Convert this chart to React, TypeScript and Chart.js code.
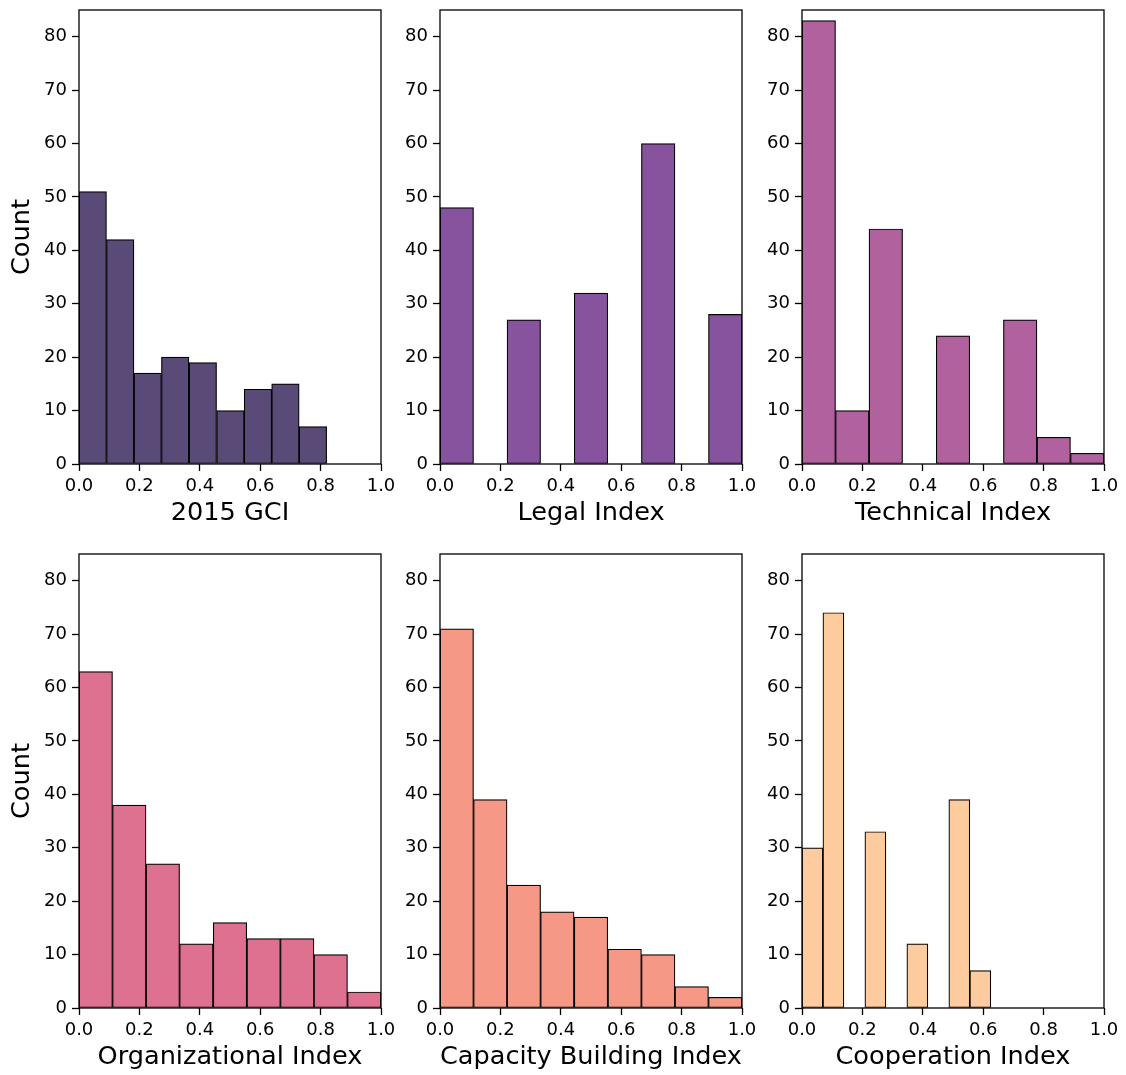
import React, { useEffect, useRef } from 'react';
import { Chart, registerables } from 'chart.js';

Chart.register(...registerables);

// Histogram bin edges
const gciEdges = [0, 0.091, 0.182, 0.273, 0.364, 0.456, 0.547, 0.638, 0.729, 0.82];
const ninthEdges = [0, 0.111, 0.222, 0.333, 0.444, 0.556, 0.667, 0.778, 0.889, 1.0];
const coopEdges = [0, 0.069, 0.139, 0.208, 0.278, 0.347, 0.417, 0.486, 0.556, 0.625];

// Counts per bin
const gciCounts = [51, 42, 17, 20, 19, 10, 14, 15, 7];
const legalCounts = [48, 0, 27, 0, 32, 0, 60, 0, 28];
const technicalCounts = [83, 10, 44, 0, 24, 0, 27, 5, 2];
const organizationalCounts = [63, 38, 27, 12, 16, 13, 13, 10, 3];
const capacityCounts = [71, 39, 23, 18, 17, 11, 10, 4, 2];
const cooperationCounts = [30, 74, 0, 33, 0, 12, 0, 39, 7];

// Axis labels and ticks
const panelTitles = [
  '2015 GCI',
  'Legal Index',
  'Technical Index',
  'Organizational Index',
  'Capacity Building Index',
  'Cooperation Index',
];
const panelColors = ['#5a4a77', '#87529e', '#b0619e', '#de7190', '#f69886', '#fecb9f'];
const xTickValues = [0, 0.2, 0.4, 0.6, 0.8, 1.0];
const yTickValues = [0, 10, 20, 30, 40, 50, 60, 70, 80];
const yLabel = 'Count';

const FONT = "'DejaVu Sans', sans-serif";
const AXIS_W = 75;
const AXIS_H = 64;
const PLOT_W = 302;
const PLOT_H = 454;
const PAD_TOP = 20;
const PAD_RIGHT = 20;
const CANVAS_W = AXIS_W + PLOT_W + PAD_RIGHT;
const CANVAS_H = PAD_TOP + PLOT_H + AXIS_H;

const colLefts = [79, 440, 802];
const rowTops = [10, 554];

const boxPlugin = {
  id: 'boxFrame',
  afterDatasetsDraw(chart: any) {
    const { ctx, chartArea } = chart;
    const { left, top, right, bottom } = chartArea;
    ctx.save();
    ctx.strokeStyle = '#000';
    ctx.lineWidth = 1.3;
    ctx.strokeRect(left, top, right - left, bottom - top);
    ctx.restore();
  },
};

type PanelProps = {
  edges: number[];
  counts: number[];
  color: string;
  title: string;
  showY: boolean;
  left: number;
  top: number;
};

function Panel({ edges, counts, color, title, showY, left, top }: PanelProps) {
  const ref = useRef<HTMLCanvasElement | null>(null);
  useEffect(() => {
    if (!ref.current) return;
    const data = counts.map((c, i) => ({ x: (edges[i] + edges[i + 1]) / 2, y: c }));
    const chart = new Chart(ref.current, {
      type: 'bar',
      data: {
        datasets: [
          {
            data,
            backgroundColor: color,
            borderColor: '#000',
            borderWidth: 1.2,
            borderSkipped: false,
            barPercentage: 1,
            categoryPercentage: 1,
          } as any,
        ],
      },
      options: {
        responsive: false,
        animation: false,
        devicePixelRatio: 1,
        layout: { padding: { top: PAD_TOP, right: PAD_RIGHT, left: 0, bottom: 0 } },
        plugins: { legend: { display: false }, tooltip: { enabled: false } },
        scales: {
          x: {
            type: 'linear',
            min: 0,
            max: 1,
            offset: false,
            afterFit: (s: any) => {
              s.height = AXIS_H;
            },
            afterBuildTicks: (s: any) => {
              s.ticks = xTickValues.map((v) => ({ value: v }));
            },
            grid: {
              display: true,
              offset: false,
              drawOnChartArea: false,
              drawTicks: true,
              tickLength: 7,
              tickColor: '#000',
              tickWidth: 1.3,
            },
            border: { display: false },
            ticks: {
              color: '#000',
              padding: 5,
              maxRotation: 0,
              font: { family: FONT, size: 18 },
              callback: (v: any) => Number(v).toFixed(1),
            },
            title: {
              display: true,
              text: title,
              color: '#000',
              font: { family: FONT, size: 25.6 },
              padding: { top: 0, bottom: -1 },
            },
          },
          y: {
            type: 'linear',
            min: 0,
            max: 85,
            afterFit: (s: any) => {
              s.width = AXIS_W;
            },
            afterBuildTicks: (s: any) => {
              s.ticks = yTickValues.map((v) => ({ value: v }));
            },
            grid: {
              display: true,
              drawOnChartArea: false,
              drawTicks: true,
              tickLength: 7,
              tickColor: '#000',
              tickWidth: 1.3,
            },
            border: { display: false },
            ticks: {
              color: '#000',
              padding: 5,
              font: { family: FONT, size: 18 },
              callback: (v: any) => String(v),
            },
            title: {
              display: showY,
              text: yLabel,
              color: '#000',
              font: { family: FONT, size: 25.6 },
              padding: { top: 3, bottom: 0 },
            },
          },
        },
      },
      plugins: [boxPlugin],
    } as any);
    return () => chart.destroy();
  }, [edges, counts, color, title, showY]);

  return (
    <div
      style={{
        position: 'absolute',
        left: left - AXIS_W,
        top: top - PAD_TOP,
        width: CANVAS_W,
        height: CANVAS_H,
      }}
    >
      <canvas ref={ref} width={CANVAS_W} height={CANVAS_H} style={{ display: 'block' }} />
    </div>
  );
}

const panelEdges = [gciEdges, ninthEdges, ninthEdges, ninthEdges, ninthEdges, coopEdges];
const panelCounts = [
  gciCounts,
  legalCounts,
  technicalCounts,
  organizationalCounts,
  capacityCounts,
  cooperationCounts,
];

export default function App() {
  return (
    <div
      style={{
        position: 'absolute',
        left: 0,
        top: 0,
        width: 1126,
        height: 1075,
        background: '#fff',
        overflow: 'hidden',
      }}
    >
      {panelTitles.map((t, i) => (
        <Panel
          key={t}
          edges={panelEdges[i]}
          counts={panelCounts[i]}
          color={panelColors[i]}
          title={t}
          showY={i % 3 === 0}
          left={colLefts[i % 3]}
          top={rowTops[Math.floor(i / 3)]}
        />
      ))}
    </div>
  );
}
